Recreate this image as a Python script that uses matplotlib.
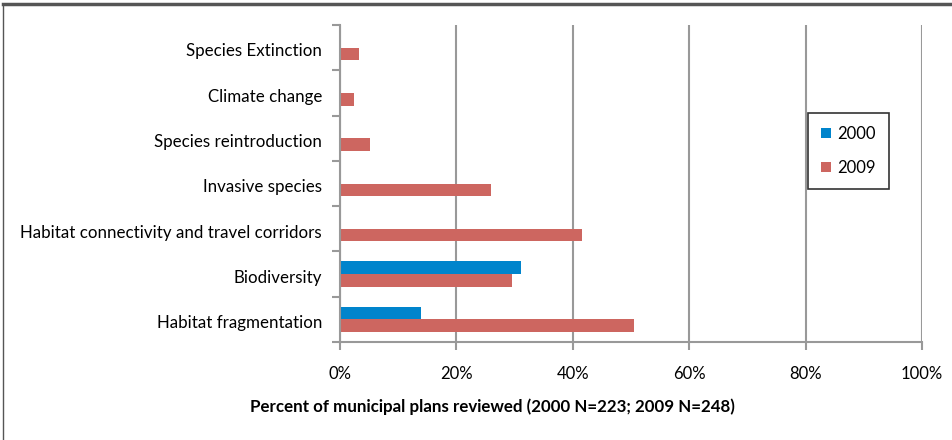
import numpy as np
import matplotlib
matplotlib.use("Agg")
import matplotlib.pyplot as plt
from matplotlib.lines import Line2D

plt.rcParams['font.family'] = ['Lato', 'DejaVu Sans']

categories = ['Habitat fragmentation', 'Biodiversity', 'Habitat connectivity and travel corridors',
              'Invasive species', 'Species reintroduction', 'Climate change', 'Species Extinction']
values_2000 = [14.0, 31.1, 0, 0, 0, 0, 0]
values_2009 = [50.5, 29.5, 41.6, 25.9, 5.2, 2.4, 3.2]
x_ticks = [0, 20, 40, 60, 80, 100]
x_labels = ['0%', '20%', '40%', '60%', '80%', '100%']

blue = '#0084CC'
red = '#CD6660'
grey = '#999999'

fig = plt.figure(figsize=(9.52, 4.4), dpi=100)
ax = fig.add_axes([340 / 952, 1 - 342 / 440, 582 / 952, 317 / 440])

y = np.arange(len(categories))
h = 0.28
ax.barh(y + h / 2, values_2000, height=h, color=blue, label='2000')
ax.barh(y - h / 2, values_2009, height=h, color=red, label='2009')

ax.set_xlim(0, 100)
ax.set_ylim(-0.5, len(categories) - 0.5)
ax.set_xticks(x_ticks)
ax.set_xticklabels(x_labels, fontsize=12)
ax.set_yticks(y - 0.05)
ax.set_yticklabels(categories, fontsize=12.2)
ax.tick_params(axis='y', length=0, pad=13)
ax.set_yticks(np.arange(len(categories) + 1) - 0.5, minor=True)
ax.tick_params(axis='y', which='minor', length=6, width=1.5, color=grey)
ax.tick_params(axis='x', length=6, width=1.5, color=grey, pad=11)

ax.grid(axis='x', color=grey, linewidth=1.5)
ax.set_axisbelow(True)
for s in ['top', 'right']:
    ax.spines[s].set_visible(False)
for s in ['left', 'bottom']:
    ax.spines[s].set_color(grey)
    ax.spines[s].set_linewidth(1.5)

fig.text(492 / 952, 1 - 407 / 440, 'Percent of municipal plans reviewed (2000 N=223; 2009 N=248)',
         fontsize=12.2, fontweight='bold', ha='center', va='center')

leg = ax.legend(loc='upper left', bbox_to_anchor=((808 - 340) / 582, (342 - 113) / 317),
                fontsize=12, frameon=True, fancybox=False, handlelength=0.55, handleheight=0.55,
                borderpad=0.8, labelspacing=1.05, handletextpad=0.4, borderaxespad=0)
leg.get_frame().set_edgecolor('black')
leg.get_frame().set_linewidth(1.2)

# outer chart border
fig.add_artist(Line2D([3 / 952, 1], [1 - 4 / 440, 1 - 4 / 440], color='#555555', linewidth=2.5))
fig.add_artist(Line2D([3 / 952, 3 / 952], [0, 1 - 4 / 440], color='#555555', linewidth=1))

fig.savefig('out.png', dpi=100)
